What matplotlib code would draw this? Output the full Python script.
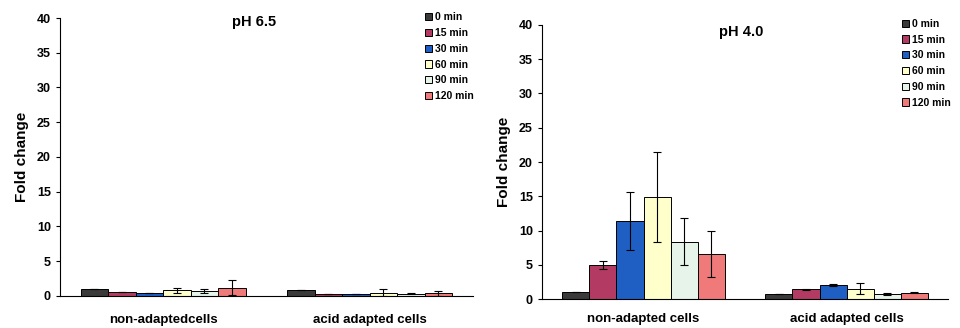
import matplotlib
matplotlib.use("Agg")
import matplotlib.pyplot as plt
import numpy as np
from matplotlib.patches import Patch

plt.rcParams["font.family"] = ["Liberation Sans", "DejaVu Sans"]
plt.rcParams["font.weight"] = "bold"

groups_65 = ["non-adaptedcells", "acid adapted cells"]
groups_40 = ["non-adapted cells", "acid adapted cells"]
times = ["0 min", "15 min", "30 min", "60 min", "90 min", "120 min"]
colors = ["#3a3a3a", "#b33a62", "#1f5fc4", "#ffffcc", "#e6f4ea", "#f07a7a"]

# fold change per time point: [non-adapted, acid adapted]
ph65_mean = [[1.0, 0.8], [0.5, 0.3], [0.4, 0.25], [0.8, 0.45], [0.7, 0.3], [1.2, 0.35]]
ph65_err = [[0.0, 0.0], [0.0, 0.0], [0.0, 0.0], [0.35, 0.5], [0.25, 0.1], [1.1, 0.3]]
ph40_mean = [[1.0, 0.75], [5.0, 1.45], [11.4, 2.05], [14.9, 1.5], [8.4, 0.75], [6.6, 0.95]]
ph40_err = [[0.0, 0.0], [0.55, 0.05], [4.3, 0.15], [6.6, 0.8], [3.4, 0.1], [3.3, 0.1]]

fig = plt.figure(figsize=(9.6, 3.28), dpi=100)


def draw_panel(rect, title, groups, means, errs, title_xy, leg_anchor, xpad):
    ax = fig.add_axes(rect)
    x = np.arange(len(groups))
    w = 0.8 / len(times)
    for i, t in enumerate(times):
        pos = x - 0.4 + w * (i + 0.5)
        ax.bar(pos, means[i], w, color=colors[i], edgecolor="black", lw=0.7,
               yerr=errs[i], capsize=3,
               error_kw=dict(ecolor="black", elinewidth=0.8, capthick=0.8))
    ax.set_xlim(-0.5, 1.5)
    ax.set_ylim(0, 40)
    ax.set_yticks(range(0, 41, 5))
    ax.set_xticks(x)
    ax.set_xticklabels(groups, fontsize=9.5, fontweight="bold")
    ax.tick_params(axis="x", length=0, pad=xpad)
    ax.tick_params(axis="y", labelsize=9, length=3)
    for lab in ax.get_yticklabels():
        lab.set_fontweight("bold")
    ax.spines["top"].set_visible(False)
    ax.spines["right"].set_visible(False)
    ax.set_ylabel("Fold change", fontsize=11, fontweight="bold", labelpad=6)
    ax.text(title_xy[0], title_xy[1], title, transform=ax.transAxes,
            ha="center", va="center", fontsize=10.5, fontweight="bold")
    handles = [Patch(facecolor=c, edgecolor="black", lw=0.7, label=t)
               for c, t in zip(colors, times)]
    fig.legend(handles=handles, loc="upper left", bbox_to_anchor=leg_anchor,
               frameon=False, fontsize=7.5, handlelength=0.7, handleheight=0.7,
               handletextpad=0.3, labelspacing=0.55, borderpad=0)
    return ax


draw_panel([0.0625, 0.098, 0.43, 0.847], "pH 6.5", groups_65, ph65_mean, ph65_err,
           (0.47, 0.985), (0.437, 0.978), 13)
draw_panel([0.5646, 0.088, 0.423, 0.836], "pH 4.0", groups_40, ph40_mean, ph40_err,
           (0.49, 0.975), (0.934, 0.958), 10)

fig.savefig("out.png", dpi=100)
